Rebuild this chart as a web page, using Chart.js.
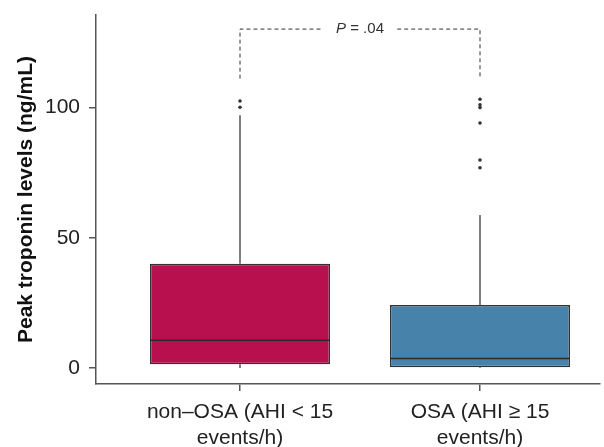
<!DOCTYPE html>
<html>
<head>
<meta charset="utf-8">
<script src="https://cdn.jsdelivr.net/npm/chart.js@4/dist/chart.umd.min.js"></script>
<style>
  body { margin: 0; background: #fff; }
  canvas { display: block; }
</style>
</head>
<body>
<canvas id="boxChart" width="604" height="447"></canvas>
<script>
// Data
const groups = [['non\u2013OSA (AHI < 15', 'events/h)'], ['OSA (AHI \u2265 15', 'events/h)']];
const groupPos = [1, 2];
const q1 = [1.5, 0.3];
const median = [10.7, 3.7];
const q3 = [40.0, 24.2];
const whiskerLow = [0.0, 0.0];
const whiskerHigh = [97.0, 58.7];
const outliers1 = [100.0, 102.4];
const outliers2 = [76.8, 79.8, 94.0, 99.9, 101.0, 103.1];
const yTicks = [0, 50, 100];
const boxColors = ['#B80F4E', '#4682A9'];
const pLabel = '.04';
const bracketY = 130;
const bracketLegY = 111;

const boxWidth = 0.75;
const fontFamily = "'Liberation Sans', Arial, Helvetica, sans-serif";

// Build line segments separated by gaps
function segments(list) {
    const out = [];
    list.forEach((seg, i) => {
        if (i > 0) out.push({ x: seg[0].x, y: null });
        seg.forEach(p => out.push(p));
    });
    return out;
}

const medianData = segments(groupPos.map((x, i) => [
    { x: x - boxWidth / 2, y: median[i] },
    { x: x + boxWidth / 2, y: median[i] }
]));
const whiskerData = segments(groupPos.flatMap((x, i) => [
    [{ x: x, y: q3[i] }, { x: x, y: whiskerHigh[i] }],
    [{ x: x, y: whiskerLow[i] }, { x: x, y: q1[i] }]
]));
const outlierData = outliers1.map(v => ({ x: groupPos[0], y: v }))
    .concat(outliers2.map(v => ({ x: groupPos[1], y: v })));

// P-value annotation text
const pValuePlugin = {
    id: 'pValue',
    afterDatasetsDraw(chart) {
        const ctx = chart.ctx;
        const xs = chart.scales.x, ys = chart.scales.y;
        const cx = xs.getPixelForValue((groupPos[0] + groupPos[1]) / 2);
        const cy = ys.getPixelForValue(bracketY);
        ctx.save();
        ctx.fillStyle = '#333';
        ctx.textBaseline = 'middle';
        ctx.font = 'italic 15px ' + fontFamily;
        const wP = ctx.measureText('P').width;
        ctx.font = '15px ' + fontFamily;
        const rest = ' = ' + pLabel;
        const wR = ctx.measureText(rest).width;
        const x0 = cx - (wP + wR) / 2;
        ctx.font = 'italic 15px ' + fontFamily;
        ctx.fillText('P', x0, cy);
        ctx.font = '15px ' + fontFamily;
        ctx.fillText(rest, x0 + wP, cy);
        ctx.restore();
    }
};

const ctx = document.getElementById('boxChart').getContext('2d');
new Chart(ctx, {
    data: {
        datasets: [
            {
                type: 'bar',
                data: groupPos.map((x, i) => ({ x: x, y: [q1[i], q3[i]] })),
                backgroundColor: boxColors,
                borderColor: '#333',
                borderWidth: 1.5,
                borderSkipped: false,
                barPercentage: boxWidth,
                categoryPercentage: 1,
                order: 3
            },
            {
                type: 'line',
                data: whiskerData,
                borderColor: '#555',
                borderWidth: 1.5,
                pointRadius: 0,
                spanGaps: false,
                order: 4
            },
            {
                type: 'line',
                data: medianData,
                borderColor: '#2a2a2a',
                borderWidth: 1.5,
                pointRadius: 0,
                spanGaps: false,
                order: 2
            },
            {
                type: 'scatter',
                data: outlierData,
                backgroundColor: '#333',
                borderWidth: 0,
                pointRadius: 1.8,
                order: 1
            },
            {
                type: 'line',
                data: [
                    { x: groupPos[0], y: bracketLegY }, { x: groupPos[0], y: bracketY }, { x: 1.345, y: bracketY },
                    { x: 1.5, y: null },
                    { x: 1.655, y: bracketY }, { x: groupPos[1], y: bracketY }, { x: groupPos[1], y: bracketLegY }
                ],
                borderColor: '#333',
                borderWidth: 1,
                borderDash: [4, 3],
                pointRadius: 0,
                spanGaps: false,
                order: 1
            }
        ]
    },
    options: {
        responsive: false,
        animation: false,
        devicePixelRatio: 1,
        layout: { padding: { top: 15, right: 0, left: 0, bottom: 0 } },
        plugins: {
            legend: { display: false },
            tooltip: { enabled: false }
        },
        scales: {
            x: {
                type: 'linear',
                offset: false,
                min: 0.4,
                max: 2.5,
                afterBuildTicks: (scale) => { scale.ticks = groupPos.map(v => ({ value: v })); },
                afterFit: (scale) => {
                    scale.height = 63;
                    scale.paddingLeft = 0;
                    scale.paddingRight = 0;
                },
                grid: { offset: false, drawOnChartArea: false, drawTicks: true, tickLength: 7, color: '#555', lineWidth: 1.5 },
                border: { display: true, color: '#555', width: 1.5 },
                ticks: {
                    callback: (v) => groups[groupPos.indexOf(v)],
                    color: '#222',
                    padding: 9,
                    maxRotation: 0,
                    autoSkip: false,
                    font: { family: fontFamily, size: 21, lineHeight: 1.2 }
                }
            },
            y: {
                type: 'linear',
                min: -6.1,
                max: 135.4,
                afterBuildTicks: (scale) => { scale.ticks = yTicks.map(v => ({ value: v })); },
                afterFit: (scale) => {
                    scale.width = 96;
                    scale.paddingTop = 0;
                    scale.paddingBottom = 0;
                },
                grid: { drawOnChartArea: false, drawTicks: true, tickLength: 7, color: '#555', lineWidth: 1.5 },
                border: { display: true, color: '#555', width: 1.5 },
                ticks: {
                    color: '#222',
                    padding: 9,
                    font: { family: fontFamily, size: 21 }
                },
                title: {
                    display: true,
                    text: 'Peak troponin levels (ng/mL)',
                    color: '#111',
                    padding: { top: 14, bottom: 0 },
                    font: { family: fontFamily, size: 21, weight: 'bold' }
                }
            }
        }
    },
    plugins: [pValuePlugin]
});
</script>
</body>
</html>
